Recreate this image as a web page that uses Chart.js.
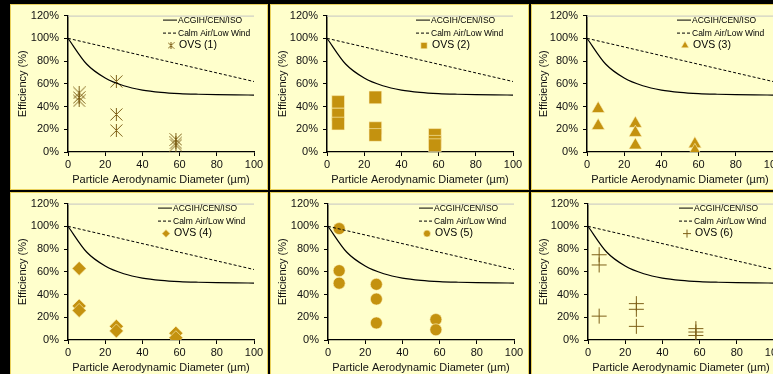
<!DOCTYPE html>
<html>
<head>
<meta charset="utf-8">
<script src="https://cdn.jsdelivr.net/npm/chart.js@4/dist/chart.umd.min.js"></script>
<style>
  html, body { margin: 0; padding: 0; background: #000; width: 773px; height: 374px; overflow: hidden; }
  .panel { position: absolute; background: #FFFFCC; box-shadow: inset 0 0 0 1px #E8CF5A; }
  .panel canvas { position: absolute; left: 0; top: 0; }
</style>
</head>
<body>
<script>
// collection efficiency conventions
const convX = [0, 10, 20, 30, 40, 50, 60, 70, 80, 90, 100];
const acgih = [100, 77.4, 65.1, 58.3, 54.5, 52.5, 51.4, 50.8, 50.4, 50.2, 50.1];
const calmX = [0, 100];
const calmAir = [100, 62];

// OVS sampler results (x = particle diameter, y = efficiency %)
const ovs1X = [6, 6, 6, 26, 26, 26, 58, 58, 58];
const ovs1Y = [52, 48, 45, 62, 33, 19, 11, 8, 6];
const ovs2X = [6, 6, 6, 26, 26, 26, 58, 58, 58];
const ovs2Y = [44, 33, 25, 48, 21, 15, 15, 9, 6];
const ovs3X = [6, 6, 26, 26, 26, 58, 58];
const ovs3Y = [38, 23, 25, 17, 6, 7, 1];
const ovs4X = [6, 6, 6, 26, 26, 58, 58];
const ovs4Y = [63, 30, 26, 12, 8, 6, 2];
const ovs5X = [6, 6, 6, 26, 26, 26, 58, 58];
const ovs5Y = [98, 61, 50, 49, 36, 15, 18, 9];
const ovs6X = [6, 6, 6, 26, 26, 26, 58, 58, 58];
const ovs6Y = [75, 66, 21, 32, 27, 12, 10, 7, 4];

const ovsLabels = ['OVS (1)', 'OVS (2)', 'OVS (3)', 'OVS (4)', 'OVS (5)', 'OVS (6)'];
const yTicks = [0, 20, 40, 60, 80, 100, 120];
const xTicks = [0, 20, 40, 60, 80, 100];

const gold = '#C4920F';
const olive = '#7E6018';
const FONT = "'Liberation Sans', Arial, sans-serif";

function asterisk(size, color) {
  const c = document.createElement('canvas');
  c.width = size; c.height = size;
  const g = c.getContext('2d');
  g.strokeStyle = color; g.lineWidth = 1;
  g.beginPath();
  g.moveTo(0.5, 0.5); g.lineTo(size - 0.5, size - 0.5);
  g.moveTo(size - 0.5, 0.5); g.lineTo(0.5, size - 0.5);
  g.moveTo(size / 2, 0); g.lineTo(size / 2, size);
  g.stroke();
  return c;
}

const panels = [
  { left: 10,  top: 4,   w: 258, h: 186, axisLeft: 58, padTop: 10, legendDx: 110, xs: ovs1X, ys: ovs1Y, style: asterisk(13, olive), r: 6,   lstyle: asterisk(7, olive), lr: 4 },
  { left: 270, top: 4,   w: 259, h: 186, axisLeft: 57, padTop: 10, legendDx: 104, xs: ovs2X, ys: ovs2Y, style: 'rect',     r: 9,   lstyle: 'rect',     lr: 4.5 },
  { left: 531, top: 4,   w: 258, h: 186, axisLeft: 56, padTop: 10, legendDx: 105, xs: ovs3X, ys: ovs3Y, style: 'triangle', r: 7.5, lstyle: 'triangle', lr: 4.5 },
  { left: 10,  top: 192, w: 258, h: 186, axisLeft: 58, padTop: 8,  legendDx: 105, xs: ovs4X, ys: ovs4Y, style: 'rectRot',  r: 7,   lstyle: 'rectRot',  lr: 4 },
  { left: 270, top: 192, w: 259, h: 186, axisLeft: 58, padTop: 8,  legendDx: 106, xs: ovs5X, ys: ovs5Y, style: 'circle',   r: 6,   lstyle: 'circle',   lr: 3.5 },
  { left: 531, top: 192, w: 258, h: 186, axisLeft: 57, padTop: 8,  legendDx: 106, xs: ovs6X, ys: ovs6Y, style: 'cross',    r: 7.5, lstyle: 'cross',    lr: 4 }
];

// legend inside the plot + light top frame line
const insideLegend = {
  id: 'insideLegend',
  afterDraw(chart, args, opts) {
    const { ctx, chartArea: a } = chart;
    const ds = chart.data.datasets;
    ctx.save();
    ctx.strokeStyle = '#C4C4C4';
    ctx.lineWidth = 1;
    ctx.beginPath(); ctx.moveTo(a.left, a.top + 0.5); ctx.lineTo(a.right, a.top + 0.5); ctx.stroke();

    const tx = a.left + opts.dx;
    ctx.textBaseline = 'middle';
    ctx.fillStyle = '#000';
    ctx.strokeStyle = '#000';
    ctx.beginPath(); ctx.moveTo(tx - 15, a.top + 4.5); ctx.lineTo(tx - 1, a.top + 4.5); ctx.stroke();
    ctx.font = '8.5px ' + FONT;
    ctx.fillText(ds[0].label, tx, a.top + 5);
    ctx.setLineDash([3, 2]);
    ctx.beginPath(); ctx.moveTo(tx - 15, a.top + 17.5); ctx.lineTo(tx - 1, a.top + 17.5); ctx.stroke();
    ctx.setLineDash([]);
    ctx.fillText(ds[1].label, tx, a.top + 18);

    const m = ds[2];
    ctx.fillStyle = m.backgroundColor;
    ctx.strokeStyle = m.borderColor;
    ctx.lineWidth = m.borderWidth;
    Chart.helpers.drawPoint(ctx, { pointStyle: opts.lstyle, radius: opts.lr, rotation: 0, borderWidth: m.borderWidth }, tx - 7, a.top + 30);
    ctx.fillStyle = '#000';
    ctx.font = '10.5px ' + FONT;
    ctx.fillText(m.label, tx + 1, a.top + 30);
    ctx.restore();
  }
};

panels.forEach((p, i) => {
  const div = document.createElement('div');
  div.className = 'panel';
  Object.assign(div.style, { left: p.left + 'px', top: p.top + 'px', width: p.w + 'px', height: p.h + 'px' });
  const cv = document.createElement('canvas');
  cv.width = p.w;
  cv.height = p.h;
  cv.style.width = p.w + 'px';
  cv.style.height = p.h + 'px';
  div.appendChild(cv);
  document.body.appendChild(div);

  const lineMarker = typeof p.style !== 'string' || p.style === 'cross';
  const points = p.xs.map((x, k) => ({ x, y: p.ys[k] }));

  new Chart(cv, {
    type: 'scatter',
    data: {
      datasets: [
        { label: 'ACGIH/CEN/ISO', data: convX.map((x, k) => ({ x, y: acgih[k] })), showLine: true,
          borderColor: '#000', borderWidth: 1.2, pointRadius: 0, cubicInterpolationMode: 'monotone' },
        { label: 'Calm Air/Low Wind', data: calmX.map((x, k) => ({ x, y: calmAir[k] })), showLine: true,
          borderColor: '#000', borderWidth: 1, borderDash: [3, 2], pointRadius: 0 },
        { label: ovsLabels[i], data: points, pointStyle: p.style, pointRadius: p.r,
          backgroundColor: lineMarker ? olive : gold,
          borderColor: lineMarker ? olive : 'rgba(255,245,190,0.6)',
          borderWidth: 1 }
      ]
    },
    options: {
      responsive: false,
      animation: false,
      devicePixelRatio: 1,
      events: [],
      layout: { padding: { top: p.padTop, right: p.w - p.axisLeft - 186, left: 0, bottom: 0 } },
      plugins: {
        legend: { display: false },
        tooltip: { enabled: false },
        insideLegend: { dx: p.legendDx, lr: p.lr, lstyle: p.lstyle }
      },
      scales: {
        x: {
          type: 'linear', min: 0, max: 100,
          afterBuildTicks: s => { s.ticks = xTicks.map(v => ({ value: v })); },
          afterFit: s => { s.height = 38; },
          grid: { drawOnChartArea: false, tickLength: 4, color: '#000' },
          border: { color: '#000', width: 1.3 },
          ticks: { color: '#111', font: { family: FONT, size: 11 }, padding: 2, maxRotation: 0 },
          title: { display: true, text: 'Particle Aerodynamic Diameter (µm)', color: '#111',
                   font: { family: FONT, size: 11 }, padding: { top: 0, bottom: 3 } }
        },
        y: {
          type: 'linear', min: 0, max: 120,
          afterBuildTicks: s => { s.ticks = yTicks.map(v => ({ value: v })); },
          afterFit: s => { s.width = p.axisLeft; },
          grid: { drawOnChartArea: false, tickLength: 4, color: '#000' },
          border: { color: '#000', width: 1.5 },
          ticks: { color: '#111', font: { family: FONT, size: 11 }, padding: 5, callback: v => v + '%' },
          title: { display: true, text: 'Efficiency (%)', color: '#111',
                   font: { family: FONT, size: 11 }, padding: { top: 6, bottom: 0 } }
        }
      }
    },
    plugins: [insideLegend]
  });
});
</script>
</body>
</html>
